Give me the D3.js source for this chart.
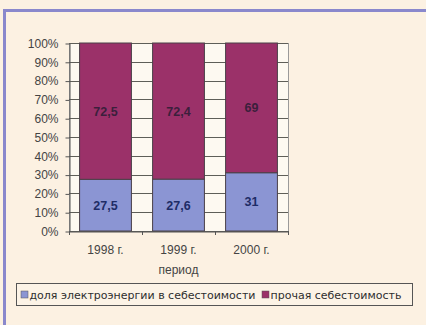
<!DOCTYPE html>
<html>
<head>
<meta charset="utf-8">
<script src="https://cdn.jsdelivr.net/npm/d3@7"></script>
<style>
  body { margin: 0; background: #fcf1e2; }
  svg { display: block; font-family: Arial, "Liberation Sans", sans-serif; }
</style>
</head>
<body>
<div id="chart"></div>
<script>
// data
var periods = ["1998 г.", "1999 г.", "2000 г."];
var elecShare = [27.5, 27.6, 31];
var otherShare = [72.5, 72.4, 69];
var seriesNames = ["доля электроэнергии в себестоимости", "прочая себестоимость"];
var yTicks = [0, 10, 20, 30, 40, 50, 60, 70, 80, 90, 100];

var width = 426, height = 325;
var colors = ["#8b95d3", "#9b3169"];

var svg = d3.select("#chart").append("svg")
    .attr("width", width)
    .attr("height", height);

// фон и рамка
svg.append("rect").attr("width", width).attr("height", height).attr("fill", "#fcf1e2");
svg.append("rect")
    .attr("x", 4.5).attr("y", 10.5)
    .attr("width", width + 10).attr("height", height + 10)
    .attr("fill", "none")
    .attr("stroke", "#8a88cc")
    .attr("stroke-width", 3);

var plot = { left: 69, right: 288, top: 43, bottom: 231 };

var x = d3.scaleBand()
    .domain(periods)
    .range([plot.left, plot.right])
    .paddingInner(0.29)
    .paddingOuter(0.145);

var y = d3.scaleLinear()
    .domain([0, 100])
    .range([plot.bottom, plot.top]);

// plot area
svg.append("rect")
    .attr("x", plot.left + 0.5).attr("y", plot.top + 0.5)
    .attr("width", plot.right - plot.left).attr("height", plot.bottom - plot.top)
    .attr("fill", "#fdf9f1")
    .attr("stroke", "#9a9a9a");

// gridlines
svg.append("g").selectAll("line")
    .data(yTicks)
    .enter().append("line")
    .attr("x1", plot.left).attr("x2", plot.right)
    .attr("y1", d => Math.round(y(d)) + 0.5).attr("y2", d => Math.round(y(d)) + 0.5)
    .attr("stroke", "#5e5e58");

// stacked bars
var rows = periods.map(function (p, i) {
    return { period: p, elec: elecShare[i], other: otherShare[i] };
});
var stack = d3.stack().keys(["elec", "other"]);
var series = stack(rows);

var layer = svg.selectAll(".layer")
    .data(series)
    .enter().append("g")
    .attr("class", "layer")
    .attr("fill", (d, i) => colors[i]);

layer.selectAll("rect")
    .data(d => d)
    .enter().append("rect")
    .attr("x", d => x(d.data.period))
    .attr("y", d => y(d[1]))
    .attr("width", x.bandwidth())
    .attr("height", d => y(d[0]) - y(d[1]))
    .attr("stroke", "#4a4048")
    .attr("stroke-width", 1);

function fmt(v) {
    var r = Math.round(v * 10) / 10;
    return String(r).replace(".", ",");
}

layer.selectAll("text")
    .data(d => d)
    .enter().append("text")
    .attr("x", d => x(d.data.period) + x.bandwidth() / 2)
    .attr("y", d => y((d[0] + d[1]) / 2) + 4.5)
    .attr("text-anchor", "middle")
    .style("font-size", "12.5px")
    .style("font-weight", "bold")
    .attr("fill", (d, i, n) => d3.select(n[i].parentNode).datum().key === "elec" ? "#1e2c66" : "#3b1f3c")
    .text(d => fmt(d[1] - d[0]));

// y axis
var yAxis = svg.append("g")
    .attr("transform", "translate(" + (plot.left + 0.5) + ",0.5)")
    .call(d3.axisLeft(y).tickValues(yTicks).tickSize(4).tickSizeOuter(0).tickFormat(d => d + "%"));
yAxis.select(".domain").attr("stroke", "#555");
yAxis.selectAll(".tick line").attr("stroke", "#555");
yAxis.selectAll("text")
    .attr("x", -11)
    .attr("fill", "#444")
    .style("font-size", "12px")
    .style("font-family", "Arial, 'Liberation Sans', sans-serif");

// x axis
var xAxis = svg.append("g")
    .attr("transform", "translate(0," + (plot.bottom + 0.5) + ")")
    .call(d3.axisBottom(x).tickSize(0).tickSizeOuter(0));
xAxis.select(".domain").attr("stroke", "#555");
xAxis.selectAll("text")
    .attr("y", 14)
    .attr("fill", "#444")
    .style("font-size", "12px")
    .style("font-family", "Arial, 'Liberation Sans', sans-serif");

// band boundary ticks
var bounds = periods.map(p => x(p) - x.step() * x.paddingInner() / 2).concat([plot.right]);
svg.append("g").selectAll("line")
    .data(bounds)
    .enter().append("line")
    .attr("x1", d => Math.round(d) + 0.5).attr("x2", d => Math.round(d) + 0.5)
    .attr("y1", plot.bottom).attr("y2", plot.bottom + 4)
    .attr("stroke", "#555");

svg.append("text")
    .attr("x", (plot.left + plot.right) / 2)
    .attr("y", 274)
    .attr("text-anchor", "middle")
    .attr("fill", "#444")
    .style("font-size", "12px")
    .text("период");

// legend
svg.append("rect")
    .attr("x", 16.5).attr("y", 283.5)
    .attr("width", 396).attr("height", 22)
    .attr("fill", "#fcf3e6")
    .attr("stroke", "#555");

var legendX = [21, 262];
var legend = svg.selectAll(".legend")
    .data(seriesNames)
    .enter().append("g")
    .attr("class", "legend")
    .attr("transform", (d, i) => "translate(" + legendX[i] + ",294)");

legend.append("rect")
    .attr("x", 0).attr("y", -3)
    .attr("width", 7).attr("height", 7)
    .attr("fill", (d, i) => colors[i])
    .attr("stroke", "#555")
    .attr("stroke-width", 0.5);

legend.append("text")
    .attr("x", 8.5)
    .attr("y", 4.5)
    .attr("fill", "#2e2e2e")
    .style("font-size", "11px")
    .style("font-family", "'DejaVu Sans', Verdana, sans-serif")
    .text(d => d);
</script>
</body>
</html>
